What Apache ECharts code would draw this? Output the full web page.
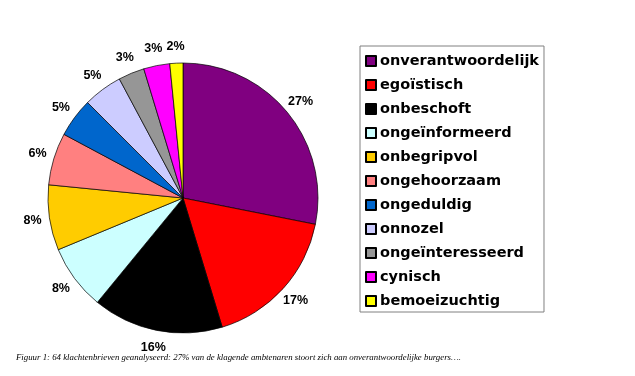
<!DOCTYPE html>
<html>
<head>
<meta charset="utf-8">
<script src="https://cdn.jsdelivr.net/npm/echarts@6/dist/echarts.min.js"></script>
<style>
  html, body { margin: 0; padding: 0; background: #fff; }
  #chart { width: 635px; height: 376px; }
</style>
</head>
<body>
<div id="chart"></div>
<script>
// klachtenbrieven per categorie (64 brieven)
let categories = ['onverantwoordelijk', 'egoïstisch', 'onbeschoft', 'ongeïnformeerd', 'onbegripvol',
    'ongehoorzaam', 'ongeduldig', 'onnozel', 'ongeïnteresseerd', 'cynisch', 'bemoeizuchtig'];
let counts = [18, 11, 10, 5, 5, 4, 3, 3, 2, 2, 1];
let pctLabels = ['27%', '17%', '16%', '8%', '8%', '6%', '5%', '5%', '3%', '3%', '2%'];
let colors = ['#800080', '#ff0000', '#000000', '#ccffff', '#ffcc00',
    '#ff8080', '#0066cc', '#ccccff', '#969696', '#ff00ff', '#ffff00'];
let caption = 'Figuur 1: 64 klachtenbrieven geanalyseerd: 27% van de klagende ambtenaren stoort zich aan onverantwoordelijke burgers….';

let pieData = categories.map((name, i) => ({ name: name, value: counts[i] }));

let chart = echarts.init(document.getElementById('chart'));
let option = {
    color: colors,
    animation: false,
    title: {
        text: caption,
        left: 16,
        top: 353,
        padding: 0,
        textStyle: {
            fontFamily: 'Liberation Serif',
            fontStyle: 'italic',
            fontWeight: 'normal',
            fontSize: 8.8,
            color: '#000'
        }
    },
    legend: {
        orient: 'vertical',
        left: 360,
        top: 46,
        data: categories,
        icon: 'rect',
        itemWidth: 10,
        itemHeight: 10,
        itemGap: 8,
        padding: [7, 5, 3, 5],
        borderColor: '#808080',
        borderWidth: 1,
        textStyle: {
            fontFamily: 'DejaVu Sans',
            fontWeight: 'bold',
            fontSize: 14.5,
            lineHeight: 16,
            color: '#000',
            padding: [0, 0, 0, -1]
        }
    },
    series: [
        {
            name: 'klachten',
            type: 'pie',
            center: [183, 198],
            radius: 135,
            startAngle: 90,
            clockwise: true,
            data: pieData,
            itemStyle: { borderColor: '#000', borderWidth: 0.7 },
            label: { show: false },
            labelLine: { show: false },
            emphasis: { disabled: true }
        },
        {
            // alleen de percentages, net buiten de taart
            name: 'labels',
            type: 'pie',
            center: [183, 198],
            radius: [139, 159],
            startAngle: 90,
            clockwise: true,
            silent: true,
            data: pieData,
            itemStyle: { color: 'rgba(0,0,0,0)', borderWidth: 0 },
            label: {
                show: true,
                position: 'inside',
                formatter: p => pctLabels[p.dataIndex],
                fontFamily: 'Liberation Sans',
                fontWeight: 'bold',
                fontSize: 12.5,
                color: '#000'
            },
            labelLine: { show: false },
            emphasis: { disabled: true }
        }
    ]
};
chart.setOption(option);
</script>
</body>
</html>
